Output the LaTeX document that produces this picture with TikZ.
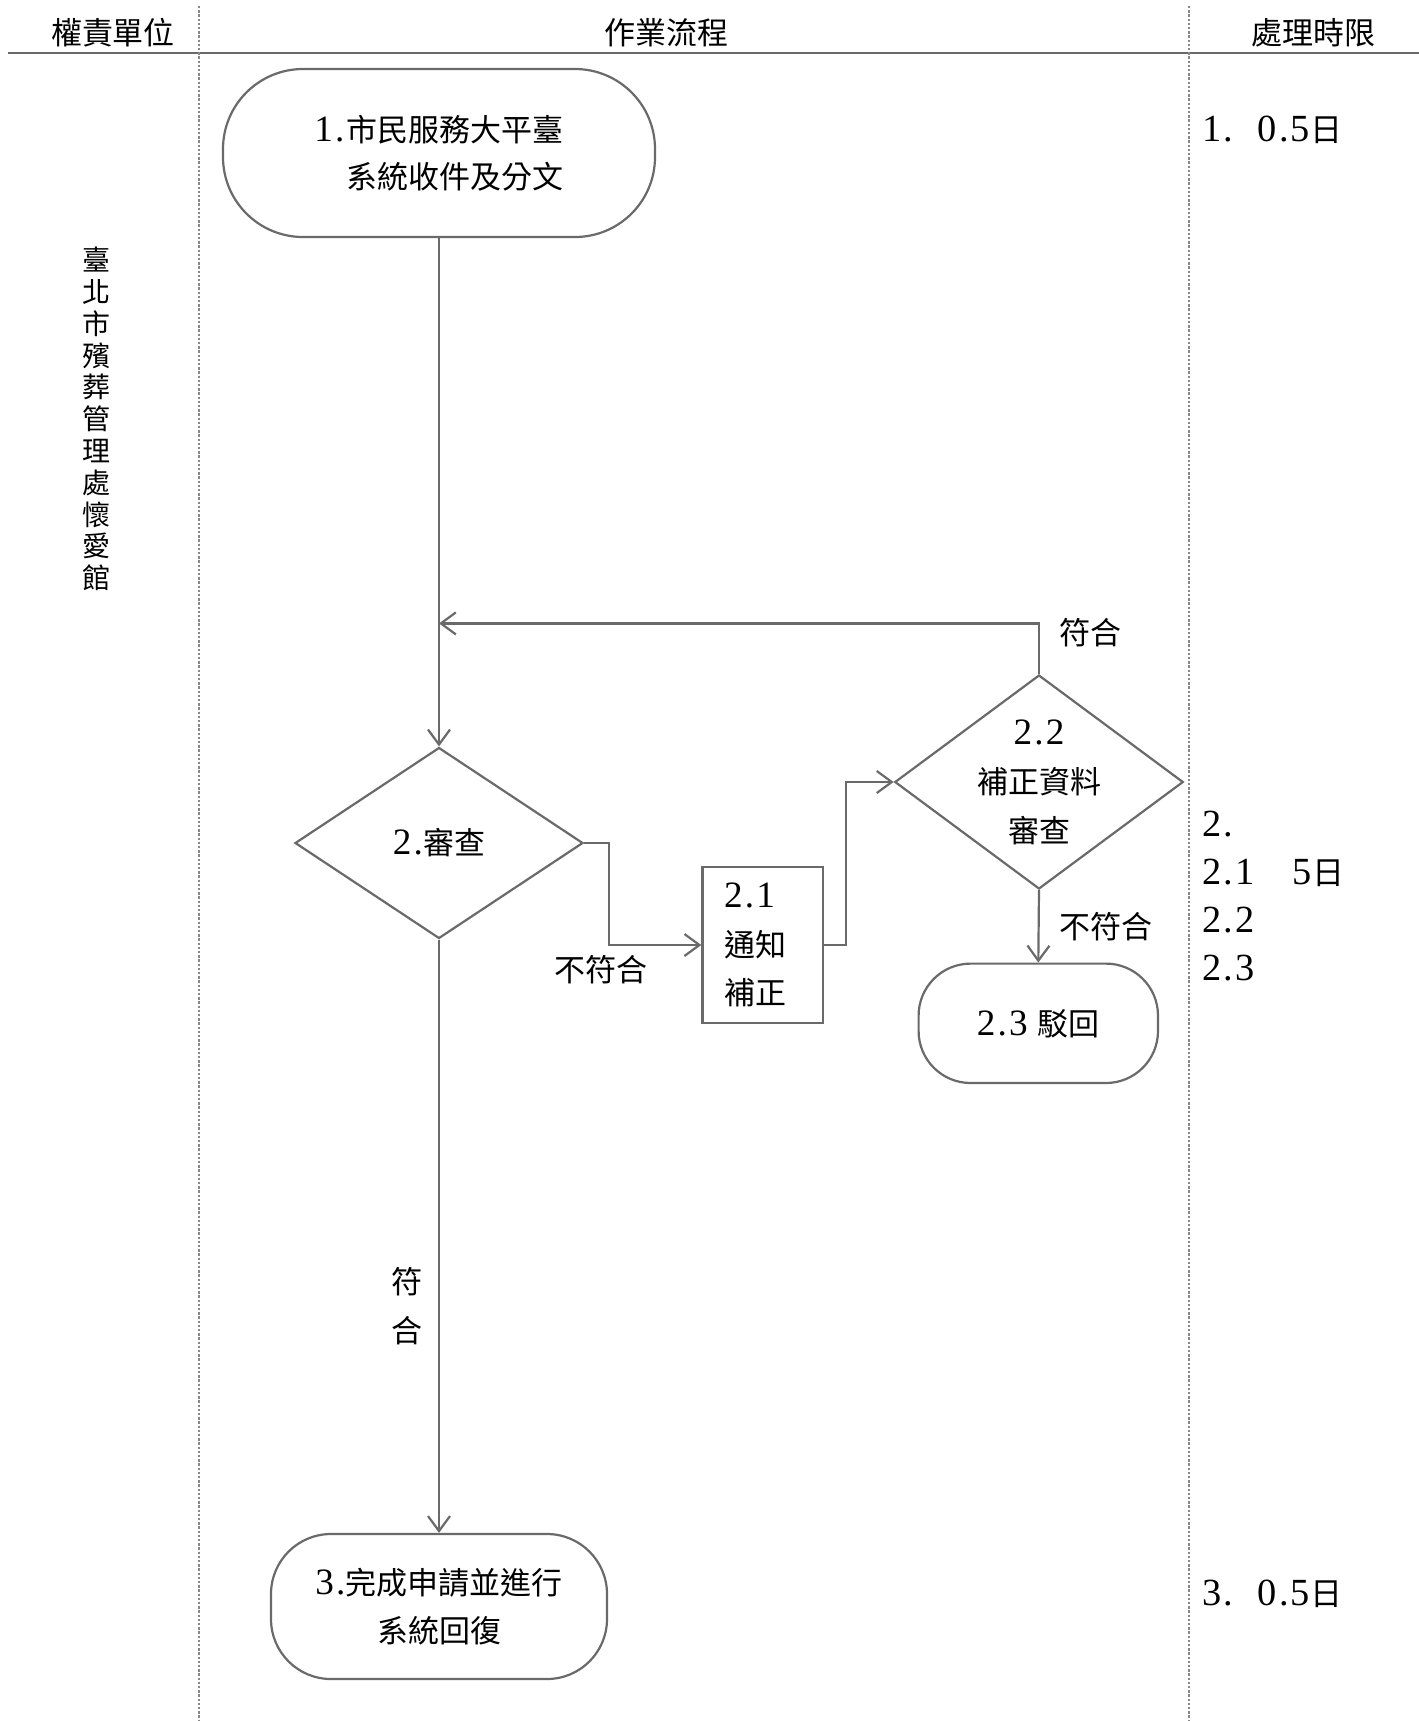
\documentclass[tikz,border=0pt]{standalone}
\usepackage{fontspec}
\setmainfont{Noto Sans CJK TC}
\newfontfamily\numf[Scale=1.2,LetterSpace=6]{Liberation Serif}
\usetikzlibrary{arrows.meta,shapes.geometric,calc}
\newcommand\N[1]{{\numf #1}}
\definecolor{lc}{HTML}{6A6A6A}
\definecolor{dc}{HTML}{888888}
\begin{document}
\begin{tikzpicture}[x=0.5pt,y=-0.5pt,
  line/.style={draw=lc,line width=1.1pt},
  arr/.style={line,-{Straight Barb[length=7.5pt,width=11pt]}},
  txt/.style={font=\fontsize{15.5}{23.5}\selectfont,text=black},
  rc/.style={font=\fontsize{16}{24}\selectfont,text=black,inner sep=0pt},
  hdrtxt/.style={font=\fontsize{15.5}{18}\selectfont,text=black},
  term/.style={line,txt,rectangle,inner sep=0pt,align=center},
  dec/.style={line,diamond,inner sep=0pt},
  sep/.style={draw=dc,line width=0.9pt,dash pattern=on 1.2pt off 0.9pt},
  hdr/.style={draw=lc,line width=1.4pt}
]
\useasboundingbox[fill=white] (0,0) rectangle (1419,1721);

% header
\node[hdrtxt] (h1) at (113,33) {權責單位};
\node[hdrtxt] (h2) at (666,33) {作業流程};
\node[hdrtxt] (h3) at (1313,33) {處理時限};
\coordinate (hl) at (8,53);
\coordinate (hr) at (1419,53);
\draw[hdr] (hl) -- (hr);

% column separators
\coordinate (v1t) at (198.6,6);
\coordinate (v1b) at (198.6,1721);
\coordinate (v2t) at (1188.6,6);
\coordinate (v2b) at (1188.6,1721);
\draw[sep] (v1t) -- (v1b);
\draw[sep] (v2t) -- (v2b);

% unit
\node[align=center,font=\fontsize{14}{15.9}\selectfont] (unit) at (97,419)
  {臺\\北\\市\\殯\\葬\\管\\理\\處\\懷\\愛\\館};

% flow nodes
\node[term,rounded corners=40pt,minimum width=216pt,minimum height=84pt,align=left] (b1) at (439,153)
  {\N{1.}\hspace{1pt}市民服務大平臺\\\phantom{\N{1.}\hspace{1pt}}系統收件及分文};

\node[dec,minimum width=144pt,minimum height=95.5pt,
  label={[txt,align=center]center:\N{2.}審查}] (d2) at (439,843) {};

\node[line,rectangle,minimum height=78pt,text width=38.7pt,inner xsep=10.8pt,inner ysep=0pt,
  align=left,font=\fontsize{15.5}{24.25}\selectfont] (b21) at (762.7,945) {\N{2.1}\\通知\\補正};

\node[dec,minimum width=144.25pt,minimum height=107pt,
  label={[font=\fontsize{15.5}{24.5}\selectfont,align=center]center:\N{2.2}\\補正資料\\審查}] (d22) at (1039,782) {};

\node[term,rounded corners=26pt,minimum width=119.7pt,minimum height=59.7pt] (b23) at (1038.3,1023.3)
  {\N{2.3}\hspace{5pt}駁回};

\node[term,rounded corners=30pt,minimum width=168pt,minimum height=72.5pt,
  font=\fontsize{15.5}{24.3}\selectfont] (b3) at (439,1606.5)
  {\N{3.}完成申請並進行\\系統回復};

% connectors
\coordinate (join) at (439,623.4);
\draw[arr] (b1.south) -- (d2.north);
\draw[arr] (d22.north) |- (join);
\draw[arr] (d2.east) -- ++(25,0) |- (b21.west);
\draw[arr] (b21.east) -- ++(22,0) |- (d22.west);
\draw[arr] (d22.south) -- (b23.north);
\draw[arr] (d2.south) -- (b3.north);

% connector labels
\node[txt] (l1) at (1090,633) {符合};
\node[txt] (l2) at (601,970) {不符合};
\node[txt] (l3) at (1106,927) {不符合};
\node[txt,align=center,font=\fontsize{15.5}{24.5}\selectfont] (l4) at (407,1306.5) {符\\合};

% time limits
\node[rc,anchor=west] (t1) at (1202,129.5) {\N{1.}\hspace{12pt}\N{0.5}日};
\node[rc,anchor=west,align=left] (t2) at (1202,896.5)
  {\N{2.}\\\N{2.1}\hspace{19pt}\N{5}日\\\N{2.2}\\\N{2.3}};
\node[rc,anchor=west] (t3) at (1202,1593.6) {\N{3.}\hspace{12pt}\N{0.5}日};
\end{tikzpicture}
\end{document}
